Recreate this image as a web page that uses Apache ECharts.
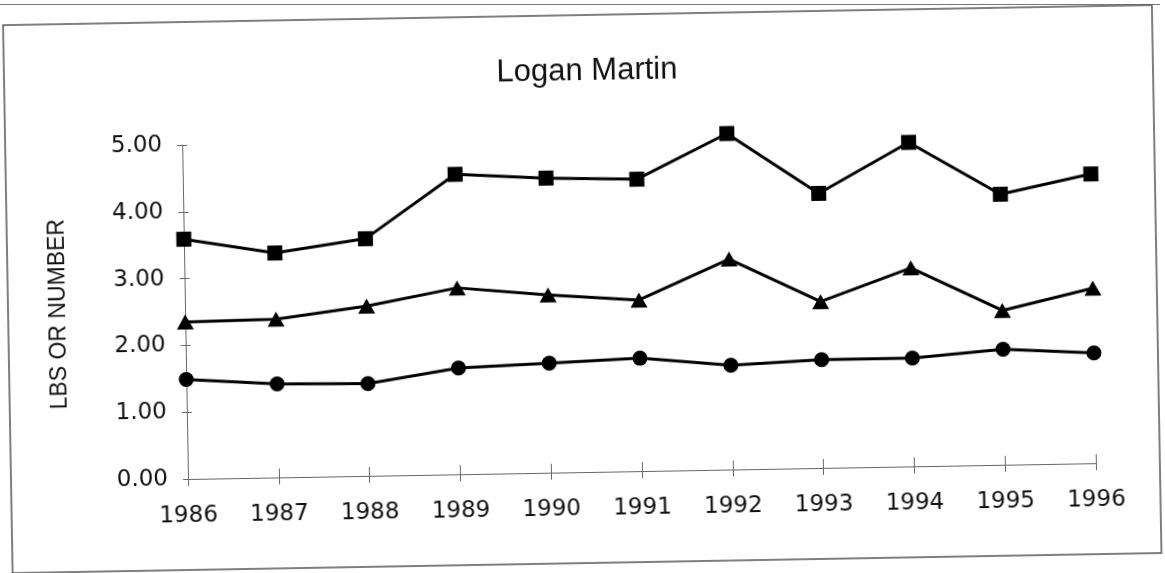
<!DOCTYPE html>
<html>
<head>
<meta charset="utf-8">
<script src="https://cdn.jsdelivr.net/npm/echarts@6/dist/echarts.min.js"></script>
<style>
    html, body { margin: 0; padding: 0; background: #fff; overflow: hidden; }
    #chart-logan {
        position: absolute; left: 0; top: 0; width: 1165px; height: 573px;
        /* the scanned page is tilted a little, so turn the chart round the plot origin */
        transform-origin: 188px 479px;
        transform: rotate(-1deg);
    }
    .scan-line { position: absolute; left: 0; top: 4px; width: 1160px; border-top: 1px solid #777; }
</style>
</head>
<body>
<div class="scan-line"></div>
<div id="chart-logan"></div>
<script>
var years = ['1986', '1987', '1988', '1989', '1990', '1991', '1992', '1993', '1994', '1995', '1996'];
var squareValues = [3.59, 3.36, 3.55, 4.49, 4.41, 4.37, 5.03, 4.11, 4.85, 4.05, 4.33];
var triangleValues = [2.35, 2.37, 2.54, 2.79, 2.66, 2.56, 3.15, 2.49, 2.97, 2.31, 2.62];
var circleValues = [1.49, 1.40, 1.38, 1.59, 1.64, 1.69, 1.56, 1.62, 1.62, 1.73, 1.65];

function initChart(id, option) {
    echarts.init(document.getElementById(id)).setOption(option);
}

var labelFont = {color: '#111', fontFamily: 'DejaVu Sans', fontSize: 23};
var axisLine = {show: true, lineStyle: {color: '#666', width: 1}};

function lineSeries(data, symbol, size) {
    return {
        type: 'line',
        data: data,
        symbol: symbol,
        symbolSize: size,
        clip: false,
        animation: false,
        lineStyle: {color: '#000', width: 3},
        itemStyle: {color: '#000'}
    };
}

var option = {
    animation: false,
    title: {
        text: 'Logan Martin',
        left: 589,
        top: 58,
        textAlign: 'center',
        textStyle: {color: '#111', fontFamily: 'Liberation Sans', fontSize: 31, fontWeight: 'normal'}
    },
    graphic: [{
        type: 'rect',
        shape: {x: 11, y: 22, width: 1149, height: 548},
        style: {fill: 'none', stroke: '#555', lineWidth: 1.5}
    }],
    grid: {left: 188, top: 145, width: 908, height: 334},
    xAxis: [{
        type: 'category',
        data: years,
        boundaryGap: false,
        axisLine: axisLine,
        axisTick: {show: true, length: 7, lineStyle: {color: '#666'}},
        axisLabel: Object.assign({margin: 26}, labelFont),
        splitLine: {show: false}
    }, {
        type: 'category',
        data: years,
        boundaryGap: false,
        position: 'bottom',
        axisLine: {show: false},
        axisTick: {show: true, inside: true, length: 9, lineStyle: {color: '#666'}},
        axisLabel: {show: false}
    }],
    yAxis: [{
        type: 'value',
        min: 0,
        max: 5,
        interval: 1,
        name: 'LBS OR NUMBER',
        nameLocation: 'middle',
        nameGap: 115,
        nameTextStyle: {color: '#111', fontFamily: 'Liberation Sans', fontSize: 23},
        axisLine: axisLine,
        axisTick: {show: true, length: 5, lineStyle: {color: '#666'}},
        axisLabel: Object.assign({margin: 20, formatter: function (v) { return v.toFixed(2); }}, labelFont),
        splitLine: {show: false}
    }, {
        type: 'value',
        min: 0,
        max: 5,
        interval: 1,
        position: 'left',
        axisLine: {show: false},
        axisTick: {show: true, inside: true, length: 5, lineStyle: {color: '#666'}},
        axisLabel: {show: false},
        splitLine: {show: false}
    }],
    series: [
        lineSeries(squareValues, 'rect', 15),
        lineSeries(triangleValues, 'triangle', [17, 15]),
        lineSeries(circleValues, 'circle', 15)
    ]
};
initChart('chart-logan', option);
</script>
</body>
</html>
